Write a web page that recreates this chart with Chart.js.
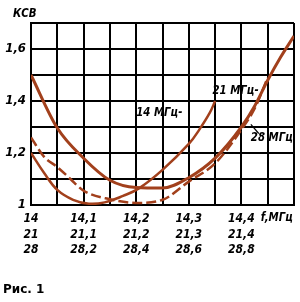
<!DOCTYPE html>
<html>
<head>
<meta charset="utf-8">
<script src="https://cdn.jsdelivr.net/npm/chart.js@4"></script>
<style>
  body { margin: 0; background: #fff; }
  #wrap { width: 300px; height: 302px; }
</style>
</head>
<body>
<div id="wrap"><canvas id="swrChart"></canvas></div>
<script>
// частота (по шкале 14 МГц) и КСВ для каждого диапазона
const freq14 = [14.0, 14.025, 14.05, 14.08, 14.11, 14.14, 14.175, 14.206, 14.25, 14.3, 14.32, 14.34, 14.35];
const swr14 = [1.2, 1.123, 1.058, 1.02, 1.005, 1.01, 1.035, 1.065, 1.135, 1.235, 1.29, 1.355, 1.40];

const freq21 = [14.0, 14.025, 14.05, 14.075, 14.1, 14.15, 14.2, 14.25, 14.3, 14.35, 14.4, 14.425, 14.45];
const swr21 = [1.26, 1.185, 1.146, 1.10, 1.055, 1.022, 1.008, 1.02, 1.09, 1.16, 1.29, 1.37, 1.49];

const freq28 = [14.0, 14.05, 14.1, 14.15, 14.2, 14.25, 14.3, 14.35, 14.4, 14.425, 14.45, 14.475, 14.5];
const swr28 = [1.50, 1.296, 1.18, 1.095, 1.067, 1.065, 1.105, 1.18, 1.30, 1.38, 1.48, 1.57, 1.65];

const xTicks14 = ['14', '14,1', '14,2', '14,3', '14,4'];
const xTicks21 = ['21', '21,1', '21,2', '21,3', '21,4'];
const xTicks28 = ['28', '28,2', '28,4', '28,6', '28,8'];
const yTicks = ['1', '1,2', '1,4', '1,6'];

const curveColor = '#a2401c';
const tickFont = { family: "'DejaVu Sans Condensed', 'DejaVu Sans'", size: 12, style: 'oblique', weight: 'bold' };

const toPoints = (xs, ys) => xs.map((x, i) => ({ x: x, y: ys[i] }));

// узкий наклонный текст
const narrowText = (ctx, text, x, y) => {
    ctx.save();
    ctx.translate(x, y);
    ctx.scale(0.85, 1);
    ctx.fillText(text, 0, 0);
    ctx.restore();
};

const labelsPlugin = {
    id: 'labels',
    afterDraw(chart) {
        const ctx = chart.ctx;
        const xs = chart.scales.x;
        const ys = chart.scales.y;
        ctx.save();
        ctx.fillStyle = '#000';
        ctx.strokeStyle = '#000';
        ctx.lineWidth = 1.2;
        ctx.font = "oblique bold 12px 'DejaVu Sans'";
        ctx.textBaseline = 'middle';
        ctx.textAlign = 'left';
        narrowText(ctx, 'КСВ', 13, 14);
        narrowText(ctx, 'f,МГц', xs.getPixelForValue(14.437), 218);
        narrowText(ctx, '14 МГц-', xs.getPixelForValue(14.2), ys.getPixelForValue(1.355));
        narrowText(ctx, '21 МГц-', xs.getPixelForValue(14.345), ys.getPixelForValue(1.44));
        narrowText(ctx, '28 МГц', xs.getPixelForValue(14.418), ys.getPixelForValue(1.26));
        // выноска для 28 МГц
        ctx.beginPath();
        ctx.moveTo(xs.getPixelForValue(14.418), ys.getPixelForValue(1.31));
        ctx.lineTo(xs.getPixelForValue(14.433), ys.getPixelForValue(1.275));
        ctx.stroke();
        ctx.font = "bold 12px 'DejaVu Sans'";
        ctx.fillText('Рис. 1', 3, 290);
        ctx.restore();
    }
};

const ctx = document.getElementById('swrChart').getContext('2d');

new Chart(ctx, {
    type: 'line',
    data: {
        datasets: [
            {
                label: '14 МГц',
                data: toPoints(freq14, swr14),
                borderColor: curveColor,
                borderWidth: 2.5,
                pointRadius: 0,
                tension: 0.4
            },
            {
                label: '21 МГц',
                data: toPoints(freq21, swr21),
                borderColor: curveColor,
                borderWidth: 2.5,
                borderDash: [10, 4],
                pointRadius: 0,
                cubicInterpolationMode: 'monotone'
            },
            {
                label: '28 МГц',
                data: toPoints(freq28, swr28),
                borderColor: curveColor,
                borderWidth: 3,
                pointRadius: 0,
                cubicInterpolationMode: 'monotone'
            }
        ]
    },
    options: {
        responsive: true,
        maintainAspectRatio: false,
        animation: false,
        layout: { padding: { left: 0, top: 23, right: 5, bottom: 0 } },
        scales: {
            x: {
                type: 'linear',
                min: 14,
                max: 14.5,
                afterFit: (scale) => { scale.height = 97; },
                grid: { color: '#000', lineWidth: 2, drawTicks: false },
                border: { color: '#000', width: 2 },
                ticks: {
                    stepSize: 0.05,
                    autoSkip: false,
                    maxRotation: 0,
                    padding: 6,
                    color: '#000',
                    font: { ...tickFont, lineHeight: 1.3 },
                    callback: (value) => {
                        const k = Math.round((value - 14) * 10);
                        if (Math.abs((value - 14) * 10 - k) > 0.01 || k > 4) return '';
                        return [xTicks14[k], xTicks21[k], xTicks28[k]];
                    }
                }
            },
            y: {
                min: 1,
                max: 1.7,
                afterFit: (scale) => { scale.width = 31; },
                grid: { color: '#000', lineWidth: 2, drawTicks: false },
                border: { color: '#000', width: 2 },
                ticks: {
                    stepSize: 0.1,
                    padding: 5,
                    color: '#000',
                    font: { ...tickFont, size: 13 },
                    callback: (value) => {
                        const k = Math.round((value - 1) * 5);
                        if (Math.abs((value - 1) * 5 - k) > 0.01 || k > 3) return '';
                        return yTicks[k];
                    }
                }
            }
        },
        plugins: {
            legend: { display: false },
            tooltip: { enabled: false }
        }
    },
    plugins: [labelsPlugin]
});
</script>
</body>
</html>
